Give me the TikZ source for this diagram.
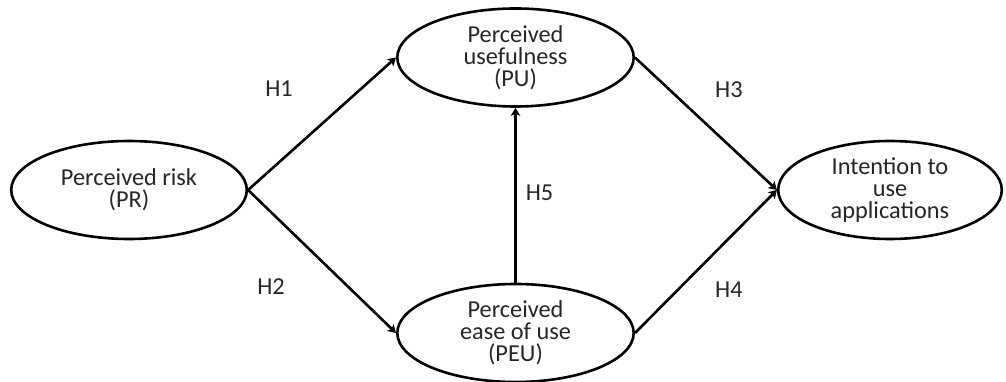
\documentclass[tikz,border=0pt]{standalone}
\usepackage{fontspec}
\setmainfont{Carlito}
\usepackage{tikz}
\usetikzlibrary{shapes.geometric,arrows.meta}

\begin{document}
\begin{tikzpicture}[x=0.25mm,y=-0.25mm,line width=0.65mm,
	>={Stealth[length=2mm,width=2.4mm,inset=0.5mm]},
	construct/.style={ellipse,draw=black,inner sep=0pt,minimum height=24.5mm,align=center,
		text=black!85,font=\fontsize{17.3}{15.6}\selectfont},
	hyp/.style={text=black!85,font=\fontsize{17.3}{15.6}\selectfont}]
	\useasboundingbox (0,0) rectangle (1006,382);
	\node[construct,minimum width=58.9mm] (A) at (129,190) {Perceived risk\\(PR)};
	\node[construct,minimum width=59.1mm] (B) at (515.5,57.5) {Perceived\\usefulness\\(PU)};
	\node[construct,minimum width=59.1mm] (C) at (515.5,333) {Perceived\\ease of use\\(PEU)};
	\node[construct,minimum width=55.9mm] (D) at (890,190) {Intention to\\use\\applications};
	
	\path [->] (A.east) edge node[hyp,shift={(-43,-35)}] {H1} (B.west);
	\path [->] (A.east) edge node[hyp,shift={(-51,25)}] {H2} (C.west);
	
	\path [->] (B.east) edge node[hyp,shift={(23,-34)}] {H3} (D.west);
	\path [->] (C.east) edge node[hyp,shift={(23,28)}] {H4} (D.west);
	
	\path [->] (C.north) edge node[hyp,shift={(24,-2)}] {H5} (B.south);
\end{tikzpicture}
\end{document}
